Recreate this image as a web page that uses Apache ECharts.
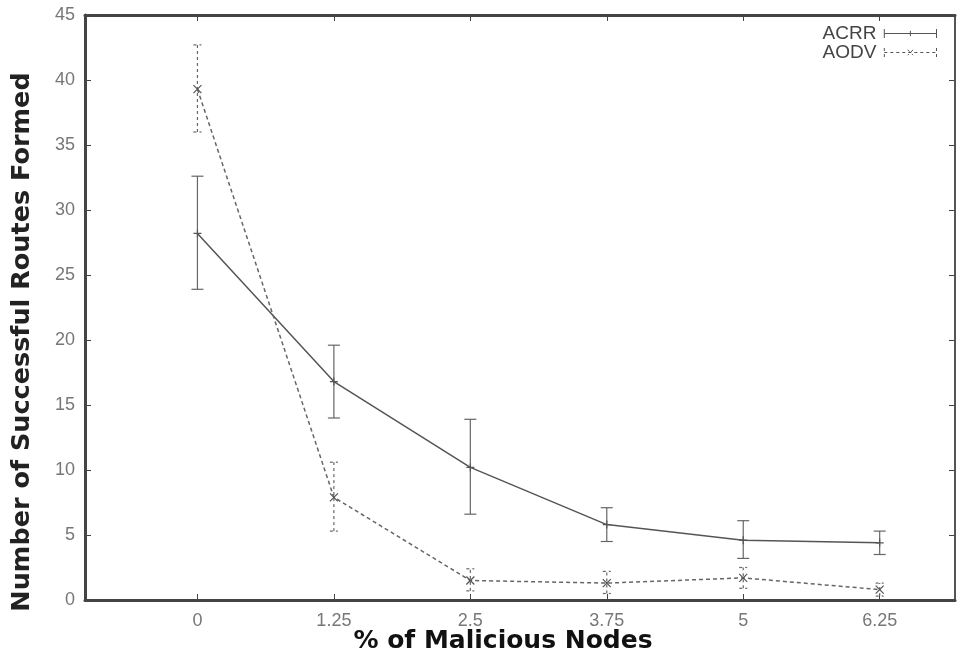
<!DOCTYPE html>
<html>
<head>
<meta charset="utf-8">
<script src="https://cdn.jsdelivr.net/npm/echarts@6/dist/echarts.min.js"></script>
<style>
  html, body { margin: 0; padding: 0; background: #fff; }
  #chart { width: 958px; height: 666px; }
</style>
</head>
<body>
<div id="chart"></div>
<script>
// % of malicious nodes
const xTicks = [0, 1.25, 2.5, 3.75, 5, 6.25];
const xTickLabels = ["0", "1.25", "2.5", "3.75", "5", "6.25"];

const acrrMean = [28.2, 16.8, 10.2, 5.8, 4.6, 4.4];
const acrrLow = [23.9, 14.0, 6.6, 4.5, 3.2, 3.5];
const acrrHigh = [32.6, 19.6, 13.9, 7.1, 6.1, 5.3];

const aodvMean = [39.3, 7.9, 1.5, 1.3, 1.7, 0.8];
const aodvLow = [36.0, 5.3, 0.7, 0.5, 0.9, 0.3];
const aodvHigh = [42.7, 10.6, 2.4, 2.2, 2.5, 1.3];

const chart = echarts.init(document.getElementById("chart"));

// vertical error bar with caps
function errorBars(dash, cap) {
  return function (params, api) {
    const x = api.value(0);
    const lo = api.coord([x, api.value(1)]);
    const hi = api.coord([x, api.value(2)]);
    const style = { stroke: "#666", lineWidth: 1.2, lineDash: dash, fill: null };
    return {
      type: "group",
      children: [
        { type: "line", shape: { x1: lo[0], y1: lo[1], x2: hi[0], y2: hi[1] }, style: style },
        { type: "line", shape: { x1: lo[0] - cap, y1: lo[1], x2: lo[0] + cap, y2: lo[1] }, style: style },
        { type: "line", shape: { x1: hi[0] - cap, y1: hi[1], x2: hi[0] + cap, y2: hi[1] }, style: style },
      ],
    };
  };
}

const tickLabel = { color: "#777", fontSize: 18, fontFamily: "Liberation Sans" };
const tickStyle = { show: true, inside: true, length: 6, lineStyle: { color: "#444" } };

const option = {
  backgroundColor: "#fff",
  animation: false,
  grid: { left: 85, right: 3, top: 15, bottom: 66 },
  legend: {
    top: 19,
    right: 14,
    orient: "vertical",
    align: "right",
    itemWidth: 58,
    itemHeight: 9,
    itemGap: 0,
    textStyle: { color: "#444", fontSize: 19, lineHeight: 17, fontFamily: "Liberation Sans" },
    data: [
      {
        name: "ACRR",
        icon: "path://M0,0V10M0,5H58M58,0V10M29,2V8",
        itemStyle: { color: "none", borderColor: "#555", borderWidth: 1 },
      },
      {
        name: "AODV",
        icon: "path://M0,0V10M0,5H58M58,0V10M26,2L32,8M32,2L26,8",
        itemStyle: { color: "none", borderColor: "#555", borderWidth: 1, borderType: [3, 3] },
      },
    ],
  },
  xAxis: [
    {
      type: "value",
      min: -1.03,
      max: 6.94,
      axisLine: { show: true, onZero: false, lineStyle: { color: "#444", width: 3 } },
      axisTick: { ...tickStyle, customValues: xTicks },
      axisLabel: {
        ...tickLabel,
        margin: 12,
        customValues: xTicks,
        formatter: (v) => xTickLabels[xTicks.indexOf(v)],
      },
      splitLine: { show: false },
    },
    {
      type: "value",
      position: "top",
      min: -1.03,
      max: 6.94,
      axisLine: { show: true, onZero: false, lineStyle: { color: "#444", width: 3 } },
      axisTick: { ...tickStyle, customValues: xTicks },
      axisLabel: { show: false },
      splitLine: { show: false },
    },
  ],
  yAxis: [
    {
      type: "value",
      min: 0,
      max: 45,
      interval: 5,
      axisLine: { show: true, onZero: false, lineStyle: { color: "#444", width: 3 } },
      axisTick: tickStyle,
      axisLabel: { ...tickLabel, margin: 10 },
      splitLine: { show: false },
    },
    {
      type: "value",
      position: "right",
      min: 0,
      max: 45,
      interval: 5,
      axisLine: { show: true, onZero: false, lineStyle: { color: "#555", width: 2 } },
      axisTick: tickStyle,
      axisLabel: { show: false },
      splitLine: { show: false },
    },
  ],
  graphic: [
    {
      type: "text",
      x: 22,
      y: 342,
      rotation: Math.PI / 2,
      style: {
        text: "Number of Successful Routes Formed",
        font: "bold 25.5px 'DejaVu Sans'",
        fill: "#222",
        align: "center",
        verticalAlign: "middle",
      },
    },
    {
      type: "text",
      x: 503,
      y: 641,
      style: {
        text: "% of Malicious Nodes",
        font: "bold 25px 'DejaVu Sans'",
        fill: "#111",
        align: "center",
        verticalAlign: "middle",
      },
    },
  ],
  series: [
    {
      name: "ACRR",
      type: "line",
      data: xTicks.map((x, i) => [x, acrrMean[i]]),
      symbol: "path://M0,5H10M5,0V10",
      symbolSize: 8,
      lineStyle: { color: "#555", width: 1.5 },
      itemStyle: { color: "none", borderColor: "#555", borderWidth: 1.2 },
      z: 3,
    },
    {
      name: "AODV",
      type: "line",
      data: xTicks.map((x, i) => [x, aodvMean[i]]),
      symbol: "path://M0,0L10,10M10,0L0,10",
      symbolSize: 8,
      lineStyle: { color: "#666", width: 1.5, type: [4, 3] },
      itemStyle: { color: "none", borderColor: "#555", borderWidth: 1.2 },
      z: 3,
    },
    {
      name: "ACRR",
      type: "custom",
      data: xTicks.map((x, i) => [x, acrrLow[i], acrrHigh[i]]),
      encode: { x: 0, y: [1, 2] },
      renderItem: errorBars(null, 6),
      z: 2,
    },
    {
      name: "AODV",
      type: "custom",
      data: xTicks.map((x, i) => [x, aodvLow[i], aodvHigh[i]]),
      encode: { x: 0, y: [1, 2] },
      renderItem: errorBars([3, 3], 4),
      z: 2,
    },
  ],
};

chart.setOption(option);
</script>
</body>
</html>
